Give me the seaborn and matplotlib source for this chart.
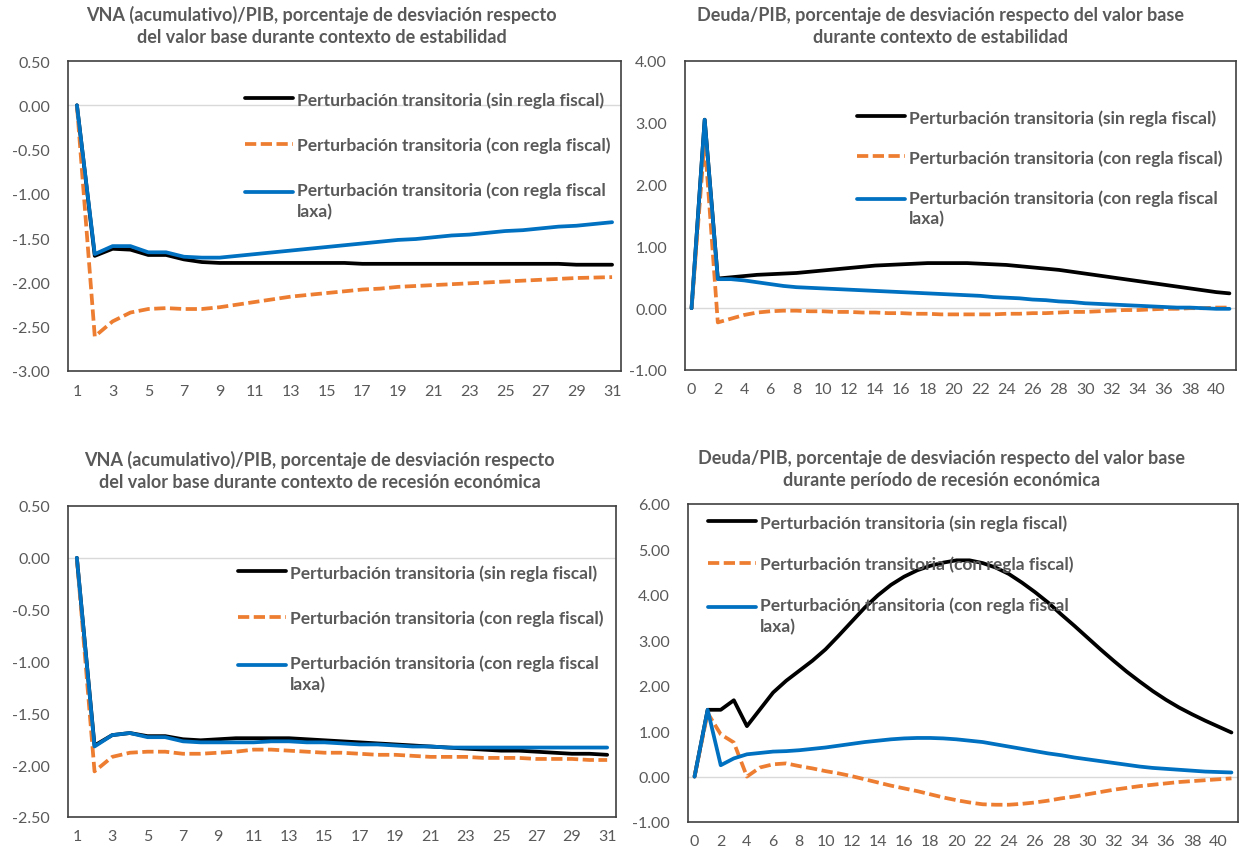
import matplotlib
matplotlib.use("Agg")
import numpy as np
import matplotlib.pyplot as plt
from matplotlib.legend_handler import HandlerLine2D
from matplotlib.lines import Line2D
import seaborn as sns
import pandas as pd

sns.set_theme(style="white")
plt.rcParams['font.family'] = ['Lato', 'DejaVu Sans']

# ---------------- data ----------------
periods_vna = list(range(1, 32))
periods_deuda = list(range(0, 42))

labels = ["Perturbación transitoria (sin regla fiscal)",
          "Perturbación transitoria (con regla fiscal)",
          "Perturbación transitoria (con regla fiscal\nlaxa)"]

# Panel 1: VNA/PIB, estabilidad
vna_est_sin = [0.00, -1.70, -1.62, -1.63, -1.69, -1.69, -1.74, -1.77, -1.78, -1.78,
               -1.78, -1.78, -1.78, -1.78, -1.78, -1.78, -1.79, -1.79, -1.79, -1.79,
               -1.79, -1.79, -1.79, -1.79, -1.79, -1.79, -1.79, -1.79, -1.80, -1.80, -1.80]
vna_est_con = [0.00, -2.61, -2.44, -2.34, -2.30, -2.29, -2.30, -2.30, -2.28, -2.25,
               -2.22, -2.19, -2.16, -2.14, -2.12, -2.10, -2.08, -2.07, -2.05, -2.04,
               -2.03, -2.02, -2.01, -2.00, -1.99, -1.98, -1.97, -1.96, -1.95, -1.945, -1.94]
vna_est_laxa = [0.00, -1.68, -1.59, -1.59, -1.66, -1.66, -1.71, -1.72, -1.72, -1.70,
                -1.68, -1.66, -1.64, -1.62, -1.60, -1.58, -1.56, -1.54, -1.52, -1.51,
                -1.49, -1.47, -1.46, -1.44, -1.42, -1.41, -1.39, -1.37, -1.36, -1.34, -1.32]

# Panel 2: Deuda/PIB, estabilidad
deuda_est_sin = [0.00, 3.05, 0.48, 0.50, 0.52, 0.54, 0.55, 0.56, 0.57, 0.59,
                 0.61, 0.63, 0.65, 0.67, 0.69, 0.70, 0.71, 0.72, 0.73, 0.73,
                 0.73, 0.73, 0.72, 0.71, 0.70, 0.68, 0.66, 0.64, 0.62, 0.59,
                 0.56, 0.53, 0.50, 0.47, 0.44, 0.41, 0.38, 0.35, 0.32, 0.29, 0.26, 0.24]
deuda_est_con = [0.00, 2.72, -0.23, -0.17, -0.11, -0.07, -0.05, -0.04, -0.04, -0.05,
                 -0.05, -0.06, -0.06, -0.07, -0.07, -0.08, -0.08, -0.09, -0.09, -0.10,
                 -0.10, -0.10, -0.10, -0.10, -0.09, -0.09, -0.08, -0.08, -0.07, -0.06,
                 -0.06, -0.05, -0.04, -0.03, -0.03, -0.02, -0.01, -0.01, 0.00, 0.00, 0.01, 0.01]
deuda_est_laxa = [0.00, 3.05, 0.47, 0.47, 0.45, 0.42, 0.39, 0.36, 0.34, 0.33,
                  0.32, 0.31, 0.30, 0.29, 0.28, 0.27, 0.26, 0.25, 0.24, 0.23,
                  0.22, 0.21, 0.20, 0.18, 0.17, 0.16, 0.14, 0.13, 0.11, 0.10,
                  0.08, 0.07, 0.06, 0.05, 0.04, 0.03, 0.02, 0.01, 0.01, 0.00, -0.01, -0.01]

# Panel 3: VNA/PIB, recesión
vna_rec_sin = [0.00, -1.81, -1.71, -1.69, -1.72, -1.72, -1.75, -1.76, -1.75, -1.74,
               -1.74, -1.74, -1.74, -1.75, -1.76, -1.77, -1.78, -1.79, -1.80, -1.81,
               -1.82, -1.83, -1.84, -1.85, -1.86, -1.86, -1.87, -1.88, -1.89, -1.89, -1.90]
vna_rec_con = [0.00, -2.06, -1.92, -1.88, -1.87, -1.87, -1.89, -1.89, -1.88, -1.87,
               -1.85, -1.85, -1.86, -1.87, -1.88, -1.88, -1.89, -1.90, -1.90, -1.91,
               -1.92, -1.92, -1.92, -1.93, -1.93, -1.93, -1.94, -1.94, -1.94, -1.95, -1.95]
vna_rec_laxa = [0.00, -1.82, -1.71, -1.69, -1.73, -1.73, -1.77, -1.78, -1.78, -1.78,
                -1.78, -1.77, -1.77, -1.78, -1.78, -1.79, -1.80, -1.80, -1.81, -1.82,
                -1.82, -1.83, -1.83, -1.83, -1.83, -1.83, -1.83, -1.83, -1.83, -1.83, -1.83]

# Panel 4: Deuda/PIB, recesión
deuda_rec_sin = [0.00, 1.47, 1.47, 1.68, 1.11, 1.48, 1.85, 2.11, 2.33, 2.55,
                 2.80, 3.10, 3.41, 3.72, 3.99, 4.22, 4.40, 4.54, 4.64, 4.71,
                 4.76, 4.76, 4.70, 4.60, 4.46, 4.27, 4.06, 3.83, 3.57, 3.32,
                 3.06, 2.80, 2.55, 2.31, 2.09, 1.88, 1.69, 1.52, 1.37, 1.23, 1.10, 0.97]
deuda_rec_con = [0.00, 1.40, 0.93, 0.75, 0.00, 0.20, 0.27, 0.29, 0.23, 0.18,
                 0.12, 0.07, 0.01, -0.06, -0.13, -0.20, -0.26, -0.32, -0.39, -0.46,
                 -0.52, -0.57, -0.61, -0.62, -0.62, -0.60, -0.57, -0.53, -0.48, -0.44,
                 -0.39, -0.34, -0.29, -0.25, -0.21, -0.18, -0.15, -0.12, -0.10, -0.08, -0.06, -0.04]
deuda_rec_laxa = [0.00, 1.47, 0.25, 0.40, 0.49, 0.52, 0.55, 0.56, 0.58, 0.61,
                  0.64, 0.68, 0.72, 0.76, 0.79, 0.82, 0.84, 0.85, 0.85, 0.84,
                  0.82, 0.79, 0.76, 0.71, 0.66, 0.61, 0.56, 0.51, 0.47, 0.42,
                  0.38, 0.34, 0.30, 0.26, 0.22, 0.19, 0.17, 0.15, 0.13, 0.11, 0.10, 0.09]

titles = ["VNA (acumulativo)/PIB, porcentaje de desviación respecto\ndel valor base durante contexto de estabilidad",
          "Deuda/PIB, porcentaje de desviación respecto del valor base\ndurante contexto de estabilidad",
          "VNA (acumulativo)/PIB, porcentaje de desviación respecto\ndel valor base durante contexto de recesión económica",
          "Deuda/PIB, porcentaje de desviación respecto del valor base\ndurante período de recesión económica"]

# ---------------- style ----------------
COLORS = ["#000000", "#ED7D31", "#0070C0"]
TXT = "#595959"
LW = 2.7
LEG_FS = 12.5


class TopAlignedLine(HandlerLine2D):
    """Places the legend line at the level of the first text line."""
    def __init__(self, shift, **kw):
        super().__init__(**kw)
        self.shift = shift

    def create_artists(self, legend, orig_handle, xdescent, ydescent, width,
                       height, fontsize, trans):
        arts = super().create_artists(legend, orig_handle, xdescent, ydescent,
                                      width, height, fontsize, trans)
        for a in arts:
            if isinstance(a, Line2D):
                a.set_ydata(np.asarray(a.get_ydata()) + self.shift)
        return arts


fig = plt.figure(figsize=(12.44, 8.54), dpi=100)
W, H = 1244, 854


def axes_px(l, t, r, b):
    return fig.add_axes([l / W, 1 - b / H, (r - l) / W, (b - t) / H])


panels = [
    dict(rect=(68, 62, 621, 372), x=periods_vna, ys=[vna_est_sin, vna_est_con, vna_est_laxa],
         ylim=(-3, 0.5), yticks=[0.5, 0, -0.5, -1, -1.5, -2, -2.5, -3], xlim=(0.5, 31.5),
         xticks=list(range(1, 32, 2)), title_x=0.459,
         leg=(245, 92), lspace=1.66),
    dict(rect=(685, 62, 1236, 371), x=periods_deuda, ys=[deuda_est_sin, deuda_est_con, deuda_est_laxa],
         ylim=(-1, 4), yticks=[4, 3, 2, 1, 0, -1], xlim=(-0.5, 41.5),
         xticks=list(range(0, 41, 2)), title_x=0.463,
         leg=(857, 110), lspace=1.35),
    dict(rect=(68, 507, 616, 818), x=periods_vna, ys=[vna_rec_sin, vna_rec_con, vna_rec_laxa],
         ylim=(-2.5, 0.5), yticks=[0.5, 0, -0.5, -1, -1.5, -2, -2.5], xlim=(0.5, 31.5),
         xticks=list(range(1, 32, 2)), title_x=0.459,
         leg=(238, 565), lspace=1.66),
    dict(rect=(688, 505, 1238, 823), x=periods_deuda, ys=[deuda_rec_sin, deuda_rec_con, deuda_rec_laxa],
         ylim=(-1, 6), yticks=[6, 5, 4, 3, 2, 1, 0, -1], xlim=(-0.5, 41.5),
         xticks=list(range(0, 41, 2)), title_x=0.461,
         leg=(708, 515), lspace=1.42),
]

for p, title in zip(panels, titles):
    l, t, r, b = p["rect"]
    ax = axes_px(l, t, r, b)
    ax.axhline(0, color="#D9D9D9", lw=1.0, zorder=1)
    for i, (y, lab) in enumerate(zip(p["ys"], labels)):
        df = pd.DataFrame({"x": p["x"], "y": y})
        kw = dict(color=COLORS[i], linewidth=LW, label=lab, ax=ax, zorder=3 + (i == 2))
        if i == 1:
            kw["dashes"] = (3.0, 1.2)
        sns.lineplot(data=df, x="x", y="y", **kw)
    ax.set_xlim(*p["xlim"])
    ax.set_ylim(*p["ylim"])
    ax.set_yticks(p["yticks"])
    ax.set_yticklabels([f"{v:.2f}" for v in p["yticks"]])
    ax.set_xticks(p["xticks"])
    ax.set_xticklabels([str(v) for v in p["xticks"]])
    ax.set_xlabel("")
    ax.set_ylabel("")
    ax.tick_params(axis="both", length=0, labelcolor=TXT, labelsize=11.5)
    ax.tick_params(axis="y", pad=13)
    ax.tick_params(axis="x", pad=9)
    for s in ax.spines.values():
        s.set_color("#404040")
        s.set_linewidth(1.2)
    ax.set_title(title, x=p["title_x"], pad=14, fontsize=13, fontweight="bold",
                 color=TXT, linespacing=1.3)
    lx, ly = p["leg"]
    handles = ax.get_lines()[1:4]
    leg = ax.legend(handles=handles, labels=labels, loc="upper left",
                    bbox_to_anchor=((lx - l) / (r - l), (b - ly) / (b - t)),
                    frameon=False, borderpad=0, borderaxespad=0,
                    handlelength=2.75, handletextpad=0.25, labelspacing=p["lspace"],
                    prop=dict(weight="bold", size=LEG_FS), labelcolor=TXT,
                    handler_map={handles[2]: TopAlignedLine(shift=6.3)})
    for txt in leg.get_texts():
        txt.set_linespacing(1.35)

fig.savefig("out.png", dpi=100, facecolor="white")
